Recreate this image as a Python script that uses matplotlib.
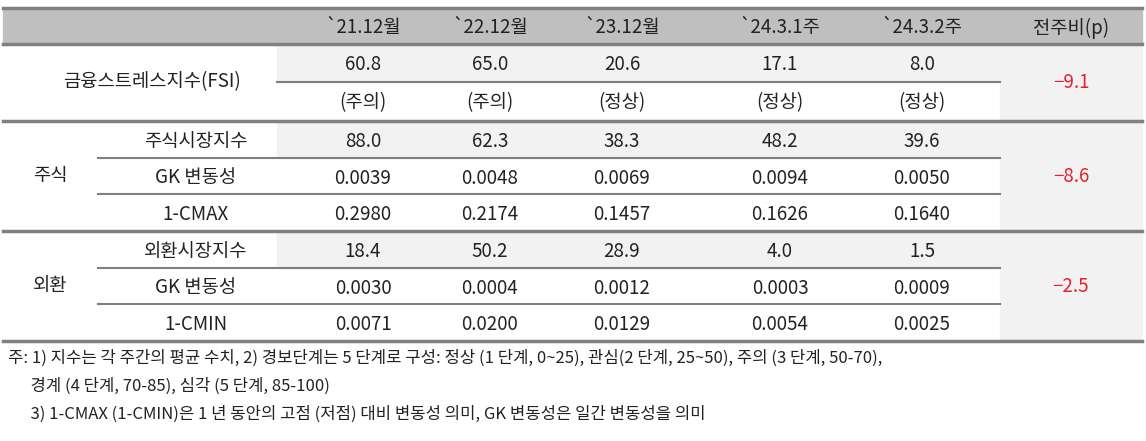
import matplotlib
matplotlib.use("Agg")
import matplotlib.pyplot as plt
from matplotlib.patches import Rectangle

plt.rcParams['font.family'] = ['Noto Sans CJK KR', 'DejaVu Sans']

columns = ["`21.12월", "`22.12월", "`23.12월", "`24.3.1주", "`24.3.2주"]
change_header = "전주비(p)"
fsi_values = ["60.8", "65.0", "20.6", "17.1", "8.0"]
fsi_levels = ["(주의)", "(주의)", "(정상)", "(정상)", "(정상)"]
fsi_change = "-9.1"
stock_rows = ["주식시장지수", "GK 변동성", "1-CMAX"]
stock_values = [["88.0", "62.3", "38.3", "48.2", "39.6"],
                ["0.0039", "0.0048", "0.0069", "0.0094", "0.0050"],
                ["0.2980", "0.2174", "0.1457", "0.1626", "0.1640"]]
stock_change = "-8.6"
fx_rows = ["외환시장지수", "GK 변동성", "1-CMIN"]
fx_values = [["18.4", "50.2", "28.9", "4.0", "1.5"],
             ["0.0030", "0.0004", "0.0012", "0.0003", "0.0009"],
             ["0.0071", "0.0200", "0.0129", "0.0054", "0.0025"]]
fx_change = "-2.5"
notes = ["주: 1) 지수는 각 주간의 평균 수치, 2) 경보단계는 5 단계로 구성: 정상 (1 단계, 0~25), 관심(2 단계, 25~50), 주의 (3 단계, 50-70),",
         "      경계 (4 단계, 70-85), 심각 (5 단계, 85-100)",
         "      3) 1-CMAX (1-CMIN)은 1 년 동안의 고점 (저점) 대비 변동성 의미, GK 변동성은 일간 변동성을 의미"]

W, H = 1146, 441
fig = plt.figure(figsize=(W/100, H/100), dpi=100)
ax = fig.add_axes([0, 0, 1, 1])
ax.set_xlim(0, W); ax.set_ylim(H, 0); ax.axis('off')

L, R = 3, 1142
XC = 1000
col_x = [363, 490, 622, 780, 922]
chg_x = 1071
fs = 13.5
dy = 2
txt = '#222222'
gray = '#bfbfbf'
light = '#f2f2f2'
red = '#e8202a'

def T(x, y, s, **kw):
    ax.text(x, y + dy, s, va='center', fontsize=kw.pop('fontsize', fs),
            color=kw.pop('color', txt), **kw)

# header
ax.add_patch(Rectangle((L, 8), R-L, 36, color=gray, zorder=0))
for x, c in zip(col_x, columns):
    T(x, 26, c, ha='center')
T(chg_x, 26, change_header, ha='center')

# change column background
ax.add_patch(Rectangle((XC, 44), R-XC, 297, color=light, zorder=0))

# FSI group
ax.add_patch(Rectangle((277, 44), XC-277, 38, color=light, zorder=0))
for x, v, l in zip(col_x, fsi_values, fsi_levels):
    T(x, 63, v, ha='center')
    T(x, 101, l, ha='center')
T(152, 80, "금융스트레스지수(FSI)", ha='center')
T(chg_x, 80, fsi_change.replace('-', '−'), ha='center', color=red)
ax.plot([277, XC], [82, 82], color='#7f7f7f', lw=1.5)

def group(top, name, rows, vals, chg):
    h = 110/3
    ax.add_patch(Rectangle((277, top), XC-277, h, color=light, zorder=0))
    for i, (rn, rv) in enumerate(zip(rows, vals)):
        yc = top + h*(i+0.5)
        T(196, yc, rn, ha='center')
        for x, v in zip(col_x, rv):
            T(x, yc, v, ha='center')
        if i > 0:
            ax.plot([98, XC], [top+h*i]*2, color='#7f7f7f', lw=1.5)
    T(50, top+53, name, ha='center')
    T(chg_x, top+53, chg.replace('-', '−'), ha='center', color=red)

group(121, "주식", stock_rows, stock_values, stock_change)
group(231, "외환", fx_rows, fx_values, fx_change)

for y in [8, 44, 121, 231, 341]:
    ax.plot([L, R], [y, y], color='#808080', lw=2.5)

for i, n in enumerate(notes):
    T(8, 356 + 28*i, n, ha='left', fontsize=12)

fig.savefig("out.png", dpi=100)
